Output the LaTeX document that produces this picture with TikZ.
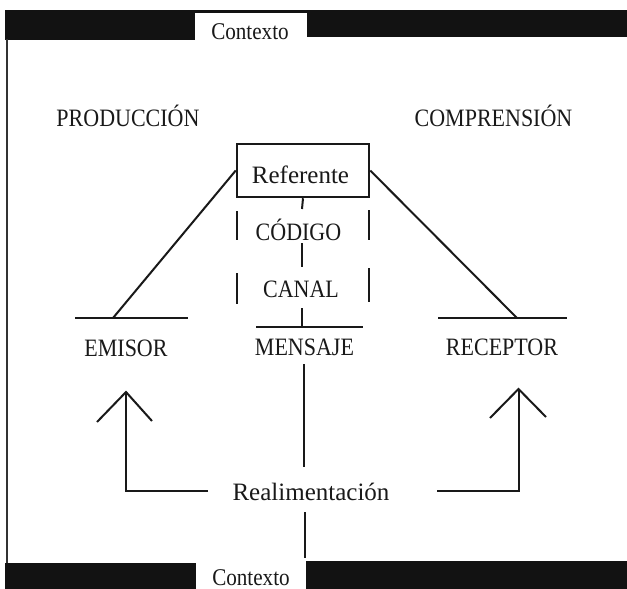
\documentclass[tikz,border=0pt]{standalone}
\usepackage{fontspec}
\setmainfont{Liberation Serif}
\newfontfamily\capsfont[FakeStretch=0.88]{Liberation Serif}
\begin{document}
\begin{tikzpicture}[x=1pt,y=-1pt,
  wire/.style={line width=2pt, draw=black!90},
  band/.style={fill=black!93},
  capslabel/.style={font=\capsfont\fontsize{25}{30}\selectfont, text=black!90, inner sep=0pt, anchor=base},
  lowlabel/.style={font=\fontsize{25}{30}\selectfont, text=black!90, inner sep=0pt, anchor=base},
  ctxlabel/.style={font=\capsfont\fontsize{24}{30}\selectfont, text=black!90, inner sep=0pt, anchor=base},
  refbox/.style={draw=black!90, line width=2.5pt, minimum width=132pt, minimum height=53pt, inner sep=0pt}
]
\useasboundingbox (0,0) rectangle (627,589);
\fill[white] (0,0) rectangle (627,589);

% context bands, top and bottom
\fill[band] (5,10) rectangle (195,39.5);
\fill[band] (195,10) rectangle (307,12.5);
\fill[band] (307,10) rectangle (627,37);
\fill[band] (5,562.5) rectangle (196,589);
\fill[band] (306,561) rectangle (627,589);
% left frame edge
\draw[line width=2pt, black!80] (7,39) -- (7,563);

\node[ctxlabel] (ctxtop) at (250,39) {Contexto};
\node[ctxlabel] (ctxbot) at (251,585) {Contexto};

% headings
\node[capslabel] (prod) at (128,126) {PRODUCCIÓN};
\node[capslabel] (comp) at (493.5,126.5) {COMPRENSIÓN};

% referent box and the middle column
\node[refbox] (ref) at (303,170.5) {};
\node[lowlabel] (reftxt) at (300.5,183) {Referente};
\node[capslabel] (codigo) at (298.5,240) {CÓDIGO};
\node[capslabel] (canal) at (301,297) {CANAL};
\node[capslabel] (mensaje) at (304.5,355) {MENSAJE};
\node[capslabel] (emisor) at (126,356) {EMISOR};
\node[capslabel] (receptor) at (502,355) {RECEPTOR};
\node[lowlabel] (realim) at (311,500.5) {Realimentación};

% junction points
\coordinate (emL) at (75,318);
\coordinate (emR) at (188,318);
\coordinate (emJ) at (113,318);
\coordinate (reL) at (438,318);
\coordinate (reR) at (567,318);
\coordinate (reJ) at (517,318);
\coordinate (msL) at (256,327);
\coordinate (msR) at (363,327);
\coordinate (msJ) at (302,327);

% sender / receiver bars and the links to the referent
\draw[wire] (emL) -- (emR);
\draw[wire] (reL) -- (reR);
\draw[wire] (msL) -- (msR);
\draw[wire] (ref.west) -- (emJ);
\draw[wire] (ref.east) -- (reJ);

% centre stem, broken by the labels
\coordinate (s1) at (302,209);
\coordinate (s2) at (302,243);
\coordinate (s3) at (302,267);
\coordinate (s4) at (302,308);
\draw[wire] (ref.south) -- (s1);
\draw[wire] (s2) -- (s3);
\draw[wire] (s4) -- (msJ);

% dashed sides of the code/channel column
\draw[wire] (237,211) -- (237,240);
\draw[wire] (237,273) -- (237,304);
\draw[wire] (369,210) -- (369,240);
\draw[wire] (369,268) -- (369,302);

% stem through the feedback label
\coordinate (f1) at (304,364);
\coordinate (f2) at (304,467);
\coordinate (f3) at (305,512);
\coordinate (f4) at (305,558);
\draw[wire] (f1) -- (f2);
\draw[wire] (f3) -- (f4);

% feedback loop with open arrowheads
\coordinate (tipL) at (126,392);
\coordinate (tipR) at (518.5,389);
\coordinate (cornL) at (126,491);
\coordinate (cornR) at (518.5,491);
\coordinate (endL) at (208,491);
\coordinate (endR) at (437,491);
\draw[wire] (endL) -- (cornL) -- (tipL);
\draw[wire] (endR) -- (cornR) -- (tipR);
\draw[wire] (97,422) -- (tipL) -- (152,421);
\draw[wire] (490,418) -- (tipR) -- (546,417);
\end{tikzpicture}
\end{document}
